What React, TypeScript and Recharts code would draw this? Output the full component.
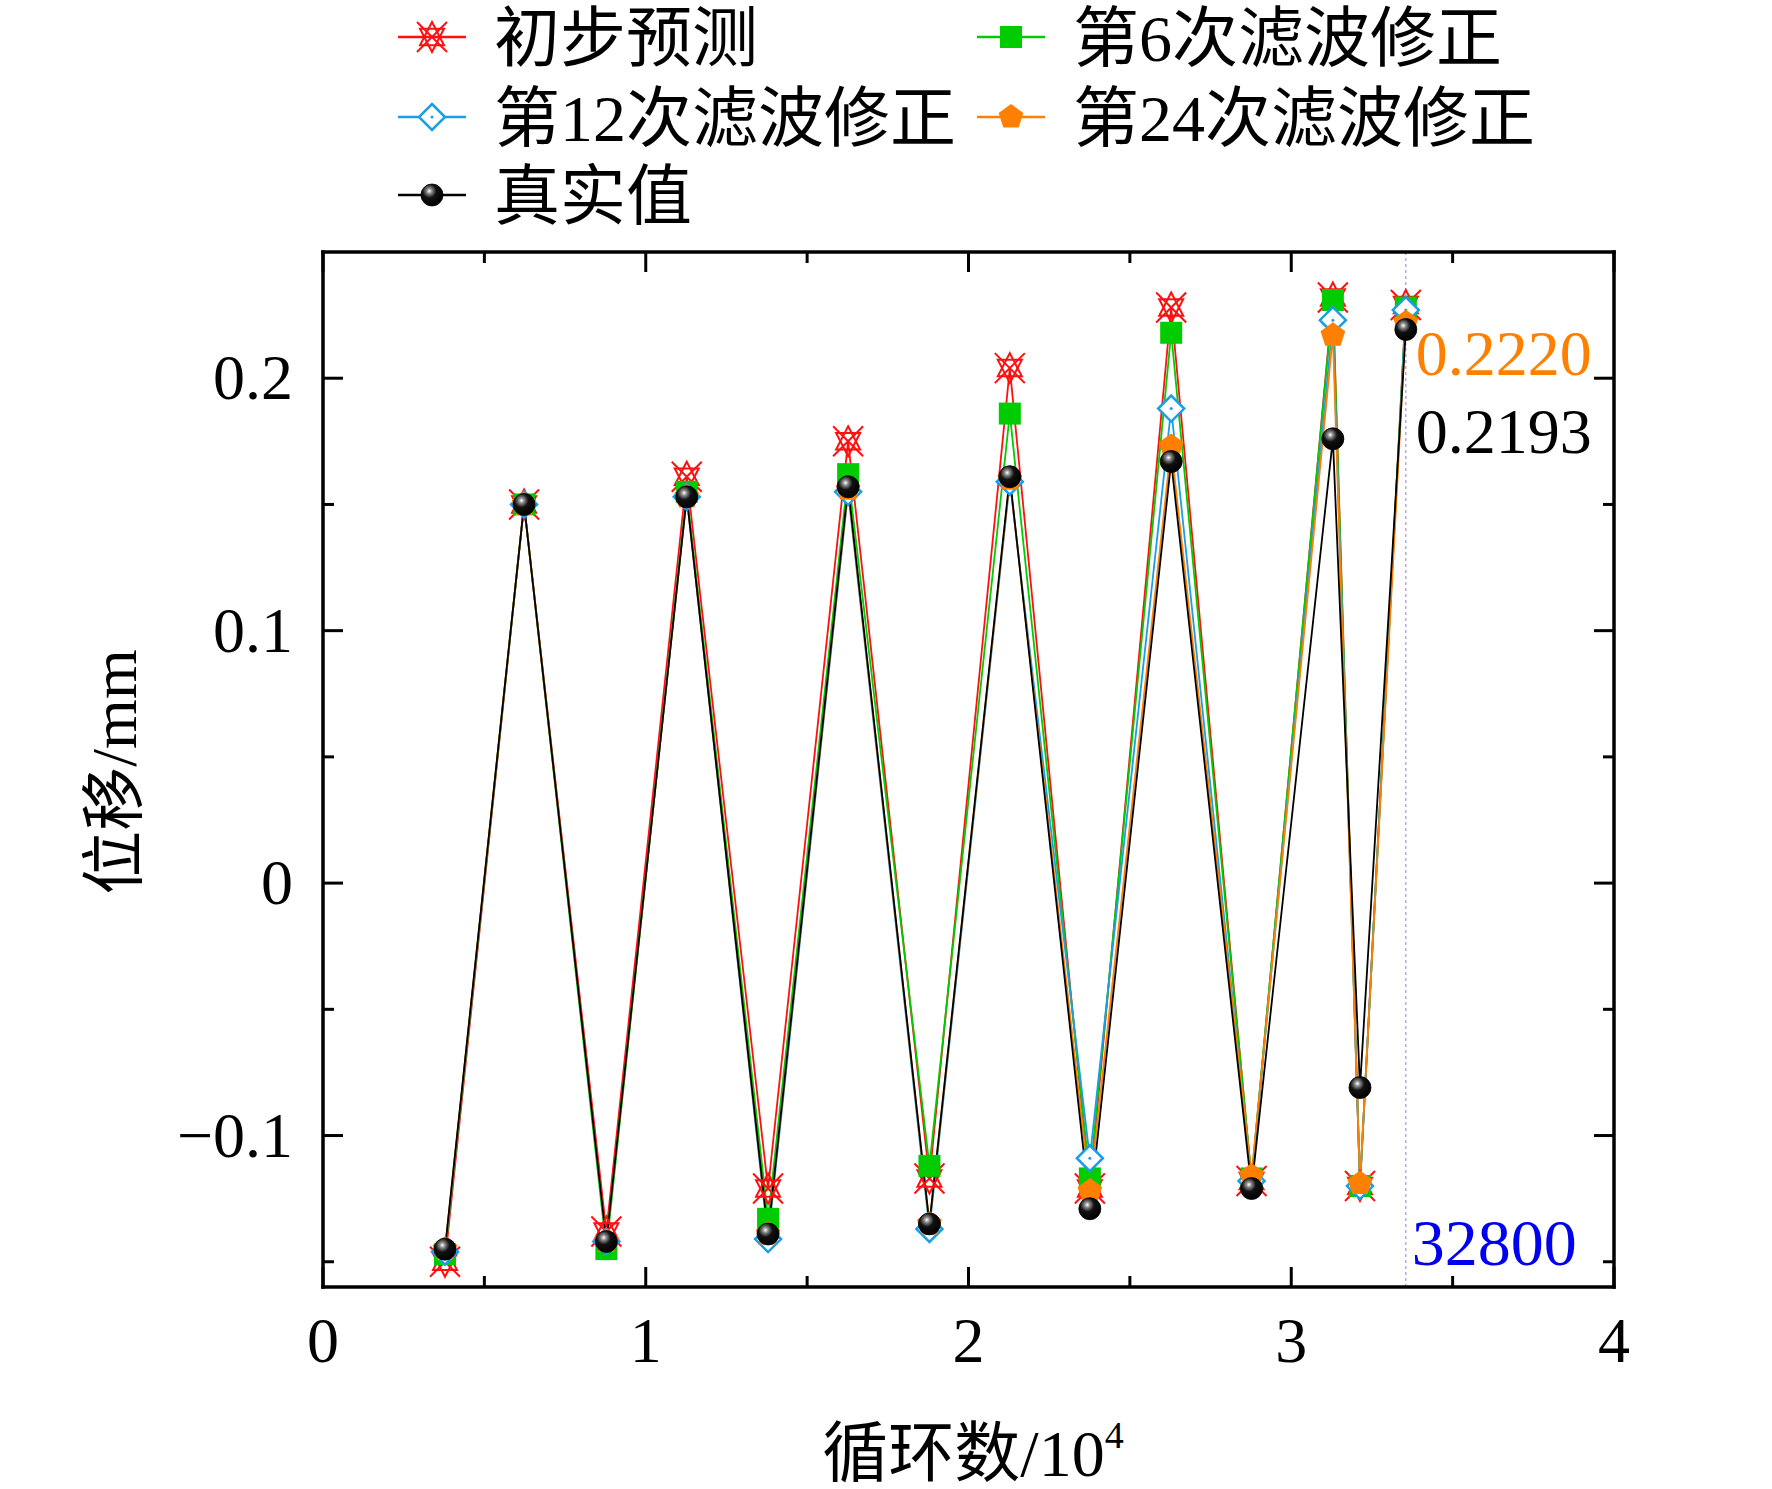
import React from 'react'
import { LineChart, Line, XAxis, YAxis, ReferenceLine, ReferenceDot } from 'recharts'

// cycle counts (x 10^4) of the turning points
const cycles = [0.378, 0.623, 0.878, 1.127, 1.379, 1.627, 1.879, 2.128, 2.376, 2.628, 2.877, 3.129, 3.213, 3.355]

// displacement in mm
const initialPrediction = [-0.15, 0.15, -0.138, 0.161, -0.121, 0.175, -0.117, 0.204, -0.121, 0.228, -0.118, 0.232, -0.12, 0.229]
const filter6 = [-0.147, 0.15, -0.145, 0.155, -0.133, 0.162, -0.112, 0.186, -0.117, 0.218, -0.117, 0.231, -0.12, 0.228]
const filter12 = [-0.146, 0.15, -0.142, 0.153, -0.141, 0.155, -0.137, 0.159, -0.109, 0.188, -0.118, 0.223, -0.12, 0.227]
const filter24 = [-0.145, 0.15, -0.142, 0.153, -0.139, 0.156, -0.135, 0.16, -0.122, 0.173, -0.116, 0.217, -0.119, 0.222]
const measured = [-0.145, 0.15, -0.142, 0.153, -0.139, 0.157, -0.135, 0.161, -0.129, 0.167, -0.121, 0.176, -0.081, 0.2193]

const xTicks = [0, 0.5, 1, 1.5, 2, 2.5, 3, 3.5, 4]
const xLabels = [0, 1, 2, 3, 4]
const yTicks = [-0.15, -0.1, -0.05, 0, 0.05, 0.1, 0.15, 0.2]
const yLabels = [-0.1, 0, 0.1, 0.2]

const lastCycle = 3.355
const lastCycleText = '32800'
const lastPredText = '0.2220'
const lastMeasuredText = '0.2193'

const W = 1772
const H = 1489
const SERIF = "'Liberation Serif', 'Times New Roman', 'Noto Sans CJK SC', serif"
const RED = '#ff1010'
const GREEN = '#00cc00'
const BLUE = '#1a9ee8'
const ORANGE = '#ff8000'

const rows = cycles.map((c, i) => ({
	cycle: c,
	pred: initialPrediction[i],
	f6: filter6[i],
	f12: filter12[i],
	f24: filter24[i],
	real: measured[i],
}))

function StarMark({ cx = 0, cy = 0, s = 15 }: { cx?: number; cy?: number; s?: number }) {
	const h = s * 0.8
	const k = s * 0.55
	return (
		<g stroke={RED} strokeWidth={2} fill="none">
			<path d={`M${cx - s},${cy - s}L${cx + s},${cy + s}M${cx - s},${cy + s}L${cx + s},${cy - s}`} />
			<polygon points={`${cx},${cy - s} ${cx + h},${cy + k} ${cx - h},${cy + k}`} />
			<polygon points={`${cx},${cy + s} ${cx + h},${cy - k} ${cx - h},${cy - k}`} />
		</g>
	)
}

function SquareMark({ cx = 0, cy = 0, s = 11 }: { cx?: number; cy?: number; s?: number }) {
	return <rect x={cx - s} y={cy - s} width={2 * s} height={2 * s} fill={GREEN} />
}

function DiamondMark({ cx = 0, cy = 0, s = 13 }: { cx?: number; cy?: number; s?: number }) {
	return (
		<g>
			<polygon
				points={`${cx},${cy - s} ${cx + s},${cy} ${cx},${cy + s} ${cx - s},${cy}`}
				fill="#fff"
				stroke={BLUE}
				strokeWidth={2.5}
			/>
			<circle cx={cx} cy={cy} r={1.5} fill={BLUE} />
		</g>
	)
}

function PentagonMark({ cx = 0, cy = 0, s = 13 }: { cx?: number; cy?: number; s?: number }) {
	const pts = [0, 1, 2, 3, 4]
		.map((i) => {
			const a = -Math.PI / 2 + (i * 2 * Math.PI) / 5
			return `${cx + s * Math.cos(a)},${cy + s * Math.sin(a)}`
		})
		.join(' ')
	return <polygon points={pts} fill={ORANGE} />
}

function BallMark({ cx = 0, cy = 0, r = 11 }: { cx?: number; cy?: number; r?: number }) {
	return <circle cx={cx} cy={cy} r={r} fill="url(#ballGrad)" stroke="#000" strokeWidth={0.8} />
}

const fmt = (v: number) => (v < 0 ? '\u2212' + Math.abs(v) : String(v))
const isMajor = (v: number, list: number[]) => list.some((m) => Math.abs(m - v) < 1e-9)

function BottomTick(props: any) {
	const { x, y, payload } = props
	const major = isMajor(payload.value, xLabels)
	return (
		<g>
			<line x1={x} y1={y} x2={x} y2={y - (major ? 20 : 11)} stroke="#000" strokeWidth={3} />
			{major && (
				<text x={x} y={y + 75} textAnchor="middle" fontFamily={SERIF} fontSize={64} fill="#000">
					{fmt(payload.value)}
				</text>
			)}
		</g>
	)
}

function TopTick(props: any) {
	const { x, y, payload } = props
	const major = isMajor(payload.value, xLabels)
	return <line x1={x} y1={y} x2={x} y2={y + (major ? 20 : 11)} stroke="#000" strokeWidth={3} />
}

function LeftTick(props: any) {
	const { x, y, payload } = props
	const major = isMajor(payload.value, yLabels)
	return (
		<g>
			<line x1={x} y1={y} x2={x + (major ? 20 : 11)} y2={y} stroke="#000" strokeWidth={3} />
			{major && (
				<text x={x - 30} y={y + 21} textAnchor="end" fontFamily={SERIF} fontSize={64} fill="#000">
					{fmt(payload.value)}
				</text>
			)}
		</g>
	)
}

function RightTick(props: any) {
	const { x, y, payload } = props
	const major = isMajor(payload.value, yLabels)
	return <line x1={x} y1={y} x2={x - (major ? 20 : 11)} y2={y} stroke="#000" strokeWidth={3} />
}

const legendItems = [
	{ name: '初步预测', color: RED, Mark: StarMark, col: 0, row: 0 },
	{ name: '第6次滤波修正', color: GREEN, Mark: SquareMark, col: 1, row: 0 },
	{ name: '第12次滤波修正', color: BLUE, Mark: DiamondMark, col: 0, row: 1 },
	{ name: '第24次滤波修正', color: ORANGE, Mark: PentagonMark, col: 1, row: 1 },
	{ name: '真实值', color: '#000', Mark: BallMark, col: 0, row: 2 },
]

const axisLine = { stroke: '#000', strokeWidth: 3.5, strokeLinecap: 'square' as const }

export default function App() {
	const colX = [398, 977]
	const rowY = [37, 117, 195]
	return (
		<div style={{ position: 'absolute', left: 0, top: 0, width: W, height: H, background: '#fff' }}>
			<LineChart width={W} height={H} data={rows} margin={{ top: 251, right: 157, bottom: 201, left: 322 }}>
				<XAxis
					dataKey="cycle"
					type="number"
					domain={[0, 4]}
					ticks={xTicks}
					interval={0}
					height={1}
					tickSize={0}
					tickMargin={0}
					tickLine={false}
					axisLine={axisLine}
					tick={<BottomTick />}
				/>
				<XAxis
					xAxisId="top"
					orientation="top"
					dataKey="cycle"
					type="number"
					domain={[0, 4]}
					ticks={xTicks}
					interval={0}
					height={1}
					tickSize={0}
					tickMargin={0}
					tickLine={false}
					axisLine={axisLine}
					tick={<TopTick />}
				/>
				<YAxis
					type="number"
					domain={[-0.16, 0.25]}
					allowDataOverflow
					ticks={yTicks}
					interval={0}
					width={1}
					tickSize={0}
					tickMargin={0}
					tickLine={false}
					axisLine={axisLine}
					tick={<LeftTick />}
				/>
				<YAxis
					yAxisId="right"
					orientation="right"
					type="number"
					domain={[-0.16, 0.25]}
					allowDataOverflow
					ticks={yTicks}
					interval={0}
					width={1}
					tickSize={0}
					tickMargin={0}
					tickLine={false}
					axisLine={axisLine}
					tick={<RightTick />}
				/>
				<ReferenceLine x={lastCycle} stroke="#9a9ae0" strokeWidth={1.2} strokeDasharray="3 3" />
				<Line
					type="linear"
					dataKey="pred"
					stroke={RED}
					strokeWidth={1.8}
					isAnimationActive={false}
					dot={(p: any) => <StarMark key={`r${p.index}`} cx={p.cx} cy={p.cy} />}
				/>
				<Line
					type="linear"
					dataKey="f6"
					stroke={GREEN}
					strokeWidth={1.8}
					isAnimationActive={false}
					dot={(p: any) => <SquareMark key={`g${p.index}`} cx={p.cx} cy={p.cy} />}
				/>
				<Line
					type="linear"
					dataKey="f12"
					stroke={BLUE}
					strokeWidth={1.8}
					isAnimationActive={false}
					dot={(p: any) => <DiamondMark key={`b${p.index}`} cx={p.cx} cy={p.cy} />}
				/>
				<Line
					type="linear"
					dataKey="f24"
					stroke={ORANGE}
					strokeWidth={1.8}
					isAnimationActive={false}
					dot={(p: any) => <PentagonMark key={`o${p.index}`} cx={p.cx} cy={p.cy} />}
				/>
				<Line
					type="linear"
					dataKey="real"
					stroke="#000"
					strokeWidth={1.8}
					isAnimationActive={false}
					dot={(p: any) => <BallMark key={`k${p.index}`} cx={p.cx} cy={p.cy} />}
				/>
				<ReferenceDot
					x={lastCycle}
					y={filter24[filter24.length - 1]}
					r={0}
					ifOverflow="visible"
					label={(p: any) => (
						<text x={p.viewBox.x + 10} y={p.viewBox.y + 52} fontFamily={SERIF} fontSize={64} fill={ORANGE}>
							{lastPredText}
						</text>
					)}
				/>
				<ReferenceDot
					x={lastCycle}
					y={measured[measured.length - 1]}
					r={0}
					ifOverflow="visible"
					label={(p: any) => (
						<text x={p.viewBox.x + 10} y={p.viewBox.y + 124} fontFamily={SERIF} fontSize={64} fill="#000">
							{lastMeasuredText}
						</text>
					)}
				/>
				<ReferenceDot
					x={lastCycle}
					y={-0.16}
					r={0}
					ifOverflow="visible"
					label={(p: any) => (
						<text x={p.viewBox.x + 6} y={p.viewBox.y - 22} fontFamily={SERIF} fontSize={66} fill="#0000ee">
							{lastCycleText}
						</text>
					)}
				/>
			</LineChart>
			<svg
				width={W}
				height={H}
				style={{ position: 'absolute', left: 0, top: 0, pointerEvents: 'none' }}
			>
				<defs>
					<radialGradient id="ballGrad" cx="0.38" cy="0.32" r="0.7">
						<stop offset="0" stopColor="#ffffff" />
						<stop offset="0.18" stopColor="#888888" />
						<stop offset="0.45" stopColor="#111111" />
						<stop offset="1" stopColor="#000000" />
					</radialGradient>
				</defs>
				{legendItems.map((it) => {
					const x0 = colX[it.col]
					const cy = rowY[it.row]
					const M = it.Mark
					return (
						<g key={it.name}>
							<line x1={x0} y1={cy} x2={x0 + 68} y2={cy} stroke={it.color} strokeWidth={2.5} />
							<M cx={x0 + 34} cy={cy} />
							<text x={x0 + 96} y={cy + 24} fontFamily={SERIF} fontSize={66} fill="#000">
								{it.name}
							</text>
						</g>
					)
				})}
				<text x={973} y={1476} textAnchor="middle" fontFamily={SERIF} fontSize={66} fill="#000">
					循环数/10<tspan fontSize={38} dy={-28}>4</tspan>
				</text>
				<text
					x={0}
					y={0}
					transform={`translate(136, 772) rotate(-90)`}
					textAnchor="middle"
					fontFamily={SERIF}
					fontSize={64}
					fill="#000"
				>
					位移/mm
				</text>
			</svg>
		</div>
	)
}
